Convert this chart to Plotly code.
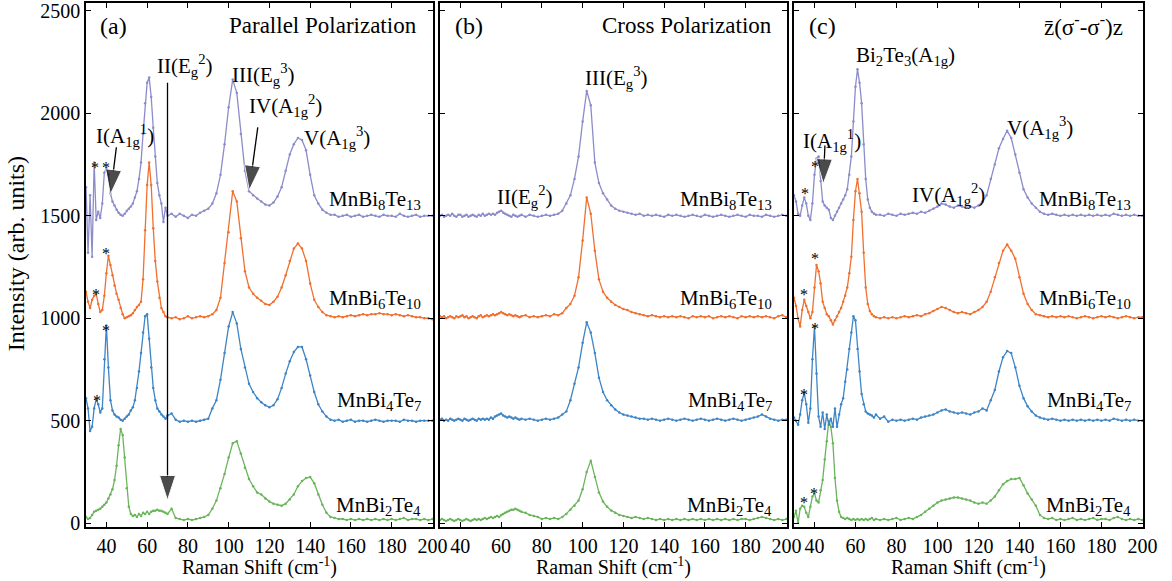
import plotly.graph_objects as go

# ---------------- data ----------------
X = [30, 31, 32, 33, 34, 35, 36, 37, 38, 39,
     40, 41, 42, 43, 44, 45, 46, 47, 48, 49,
     50, 51, 52, 53, 54, 55, 56, 57, 58, 59,
     60, 61, 62, 63, 64, 65, 66, 67, 68, 69,
     70,
     72, 74, 76, 78, 80, 82, 84, 86, 88, 90,
     92, 94, 96, 98, 100, 102, 104, 106, 108, 110,
     112, 114, 116, 118, 120, 122, 124, 126, 128, 130,
     132, 134, 136, 138, 140, 142, 144, 146, 148, 150,
     152, 154, 156, 158, 160, 162, 164, 166, 168, 170,
     172, 174, 176, 178, 180, 182, 184, 186, 188, 190,
     192, 194, 196, 198, 200]

# (a) Parallel polarization
PA_8 = [1640, 1320, 1600, 1300, 1760, 1480, 1520, 1490, 1560, 1710,
        1735, 1700, 1610, 1570, 1550, 1530, 1515, 1505, 1500, 1510,
        1525, 1535, 1545, 1560, 1590, 1620, 1680, 1760, 1900, 2050,
        2150, 2175, 2080, 1930, 1790, 1660, 1600, 1560, 1470, 1540,
        1500,
        1510, 1495, 1510, 1500, 1490, 1505, 1500, 1515, 1525, 1535,
        1560, 1610, 1700, 1850, 2030, 2165, 2100, 1900, 1720, 1620,
        1600, 1585, 1570, 1555, 1550, 1565, 1595, 1640, 1720, 1800,
        1850, 1880, 1870, 1820, 1700, 1600, 1560, 1530, 1515, 1505,
        1505, 1495, 1500, 1505, 1495, 1500, 1505, 1495, 1500, 1505,
        1500, 1495, 1505, 1500, 1500, 1495, 1510, 1500, 1495, 1500,
        1505, 1495, 1500, 1500, 1500]
PA_6 = [1130, 1080, 1050, 1090, 1110, 1120, 1070, 1030, 1040, 1110,
        1220, 1305, 1260, 1210, 1160, 1120, 1090, 1050, 1020, 1000,
        1005, 1010, 1015, 1025, 1040, 1055, 1065, 1080, 1190, 1430,
        1650, 1760, 1650, 1440, 1280, 1180, 1100, 1050, 1030, 1010,
        1005,
        1000, 1005, 995, 1000, 1010, 1000, 1005, 1010, 1005, 1010,
        1020, 1040, 1100, 1270, 1420, 1620, 1570, 1390, 1230, 1150,
        1120, 1100, 1085, 1070, 1065, 1080, 1105, 1150, 1210, 1280,
        1340, 1365, 1340, 1280, 1170, 1090, 1055, 1030, 1015, 1010,
        1005, 1010, 1005, 1010, 1015, 1010, 1015, 1020, 1015, 1020,
        1020, 1025, 1020, 1020, 1015, 1020, 1015, 1010, 1015, 1010,
        1005, 1005, 1000, 1000, 995]
PA_4 = [610, 560, 450, 470, 560, 605, 580, 540, 560, 800,
        965, 760, 600, 550, 530, 520, 515, 505, 500, 510,
        520, 530, 550, 565, 600, 660, 740, 830, 930, 1010,
        1020, 900, 760, 660, 600, 560, 545, 530, 520, 510,
        525,
        535, 505, 495, 500, 495, 500, 495, 500, 505, 510,
        560, 600, 700, 830, 960, 1030, 975, 850, 760, 680,
        640, 610, 590, 575, 565, 575, 605, 660, 730, 790,
        835, 860, 860, 800, 720, 640, 580, 545, 520, 505,
        500, 505, 495, 500, 505, 495, 500, 500, 495, 500,
        505, 500, 495, 500, 500, 500, 495, 505, 500, 500,
        495, 500, 500, 500, 500]
PA_2 = [30, 20, 25, 40, 55, 60, 65, 70, 80, 90,
        100, 120, 140, 165, 210, 280, 380, 460, 430, 320,
        170, 80, 45, 35, 40, 30, 45, 35, 50, 45,
        55, 45, 55, 60, 60, 65, 60, 60, 55, 50,
        45,
        70, 25, 20, 15, 20, 15, 20, 25, 30, 40,
        70, 110, 170, 240, 320, 390, 400, 340, 270, 215,
        180, 150, 140, 120, 105, 95, 90, 85, 95, 115,
        140, 180, 205, 220, 225, 195, 140, 90, 50, 30,
        25, 20, 20, 15, 20, 15, 20, 15, 20, 15,
        20, 15, 20, 15, 20, 15, 20, 25, 15, 20,
        20, 15, 20, 15, 20]

# (b) Cross polarization
PB_8 = [1500, 1505, 1495, 1500, 1505, 1500, 1510, 1500, 1495, 1505,
        1505, 1495, 1500, 1505, 1495, 1500, 1505, 1500, 1495, 1505,
        1500, 1510, 1500, 1505, 1510, 1505, 1510, 1505, 1515, 1520,
        1525, 1515, 1510, 1505, 1500, 1495, 1505, 1500, 1495, 1500,
        1505,
        1495, 1505, 1500, 1495, 1500, 1505, 1500, 1505, 1510, 1525,
        1560, 1600, 1680, 1790, 1960, 2110, 2040, 1760, 1660, 1610,
        1580, 1550, 1535, 1525, 1520, 1515, 1510, 1505, 1510, 1500,
        1505, 1500, 1505, 1500, 1495, 1505, 1500, 1505, 1500, 1495,
        1500, 1505, 1500, 1495, 1505, 1500, 1495, 1500, 1505, 1500,
        1495, 1500, 1505, 1500, 1495, 1505, 1500, 1500, 1495, 1505,
        1500, 1495, 1500, 1505, 1500]
PB_6 = [1010, 1005, 1010, 1000, 1005, 1010, 1005, 1000, 1010, 1005,
        1010, 1015, 1005, 1010, 1000, 1005, 1010, 1005, 1000, 1010,
        1015, 1005, 1010, 1015, 1010, 1015, 1020, 1015, 1020, 1025,
        1030, 1025, 1020, 1015, 1020, 1015, 1010, 1015, 1010, 1005,
        1010,
        1015, 1005, 1010, 1005, 1010, 1015, 1010, 1020, 1015, 1025,
        1050, 1070, 1110, 1200, 1380, 1590, 1510, 1330, 1190, 1130,
        1100, 1080, 1065, 1055, 1045, 1040, 1030, 1025, 1020, 1015,
        1010, 1015, 1010, 1005, 1010, 1005, 1010, 1005, 1010, 1005,
        1000, 1010, 1005, 1010, 1005, 1010, 1000, 1005, 1010, 1005,
        1010, 1005, 1000, 1010, 1005, 1010, 1005, 1010, 1005, 1010,
        1005, 1000, 1010, 1015, 1005]
PB_4 = [505, 510, 500, 505, 500, 510, 505, 500, 505, 510,
        505, 500, 510, 505, 500, 505, 510, 505, 500, 510,
        505, 510, 505, 510, 505, 515, 510, 520, 525, 530,
        535, 525, 520, 515, 520, 515, 510, 515, 510, 505,
        510,
        505, 510, 505, 500, 505, 510, 505, 510, 515, 530,
        545, 600, 680, 760, 880, 980, 930, 830, 710, 640,
        600, 575, 555, 540, 530, 525, 520, 515, 510, 510,
        505, 510, 505, 500, 505, 510, 505, 500, 505, 510,
        505, 500, 505, 510, 505, 500, 505, 510, 505, 500,
        505, 510, 505, 500, 505, 510, 515, 520, 530, 520,
        510, 505, 500, 505, 505]
PB_2 = [15, 20, 15, 10, 15, 20, 15, 10, 15, 20,
        15, 10, 15, 20, 15, 10, 15, 20, 15, 20,
        15, 20, 25, 20, 25, 30, 25, 30, 35, 30,
        40, 45, 50, 55, 60, 65, 65, 70, 65, 60,
        55,
        50, 40, 35, 30, 20, 25, 20, 25, 20, 30,
        45, 65, 85, 110, 165, 250, 305, 225, 150, 105,
        80, 62, 50, 40, 35, 30, 25, 30, 25, 20,
        25, 20, 15, 20, 15, 20, 15, 20, 15, 20,
        15, 20, 15, 20, 15, 20, 15, 20, 15, 20,
        15, 20, 15, 20, 20, 15, 20, 25, 30, 25,
        20, 15, 20, 15, 20]

# (c) circular z(s- s-)z
PC_8 = [1600, 1570, 1510, 1500, 1550, 1590, 1560, 1500, 1480, 1560,
        1700, 1780, 1790, 1670, 1570, 1550, 1540, 1530, 1490, 1480,
        1500, 1520, 1540, 1560, 1580, 1600, 1630, 1700, 1790, 1960,
        2130, 2215, 2150, 2050, 1850, 1680, 1580, 1540, 1520, 1510,
        1505,
        1505, 1500, 1510, 1505, 1500, 1510, 1505, 1510, 1515, 1510,
        1520, 1515, 1525, 1535, 1545, 1560, 1555, 1545, 1540, 1550,
        1545, 1540, 1545, 1540, 1550, 1570, 1600, 1680, 1750, 1830,
        1875, 1915, 1880, 1800, 1710, 1630, 1590, 1560, 1540, 1520,
        1510, 1505, 1510, 1505, 1500, 1505, 1500, 1505, 1500, 1505,
        1500, 1505, 1500, 1505, 1500, 1505, 1500, 1510, 1505, 1500,
        1505, 1500, 1505, 1500, 1500]
PC_6 = [1100, 1060, 1000, 960, 1040, 1090, 1060, 1030, 1000, 1030,
        1150, 1260, 1230, 1170, 1080, 1050, 1020, 1010, 990, 970,
        990, 1010, 1030, 1050, 1080, 1110, 1150, 1220, 1300, 1480,
        1620, 1680, 1610, 1520, 1320, 1150, 1070, 1035, 1020, 1010,
        1005,
        1000, 1005, 1000, 1005, 1000, 1005, 1010, 1005, 1010, 1015,
        1010, 1020, 1025, 1035, 1045, 1055, 1050, 1040, 1030, 1025,
        1030, 1025, 1020, 1030, 1040, 1055, 1080, 1130, 1200, 1270,
        1330, 1360, 1330, 1290, 1200, 1120, 1070, 1040, 1020, 1015,
        1010, 1005, 1010, 1005, 1010, 1005, 1010, 1005, 1000, 1005,
        1010, 1005, 1000, 1005, 1010, 1005, 1010, 1005, 1000, 1005,
        1010, 1005, 1000, 1005, 1005]
PC_4 = [515, 500, 480, 530, 600, 635, 580, 490, 560, 800,
        960, 730, 520, 470, 540, 460, 530, 480, 510, 470,
        560, 470, 530, 580, 610, 690, 750, 850, 930, 1010,
        990, 850, 740, 630, 580, 545, 535, 530, 525, 515,
        530,
        510, 520, 495, 505, 500, 505, 500, 505, 510, 505,
        515, 520, 525, 530, 540, 550, 555, 545, 540, 535,
        540, 535, 530, 540, 545, 560, 550, 600, 650, 740,
        810, 840, 830, 760, 670, 610, 570, 545, 525, 515,
        510, 505, 510, 505, 500, 505, 500, 505, 500, 505,
        500, 505, 500, 505, 500, 505, 500, 510, 505, 500,
        505, 500, 505, 500, 500]
PC_2 = [30, 60, 0, 70, 85, 80, 50, 30, 80, 130,
        145, 110, 100, 160, 210, 310, 400, 500, 470, 390,
        220, 110, 55, 30, 25, 20, 25, 20, 15, 20,
        15, 20, 15, 20, 15, 20, 15, 20, 25, 15,
        20,
        15, 20, 15, 20, 25, 15, 20, 25, 20, 30,
        40, 55, 70, 85, 100, 110, 115, 120, 125, 125,
        120, 115, 110, 100, 95, 100, 95, 110, 130, 160,
        190, 205, 215, 215, 220, 185, 145, 115, 85, 40,
        25, 20, 25, 15, 20, 15, 20, 25, 15, 20,
        15, 20, 25, 15, 20, 20, 15, 25, 30, 20,
        15, 20, 15, 20, 15]

NAMES = ["MnBi<sub>2</sub>Te<sub>4</sub>", "MnBi<sub>4</sub>Te<sub>7</sub>",
         "MnBi<sub>6</sub>Te<sub>10</sub>", "MnBi<sub>8</sub>Te<sub>13</sub>"]
COLORS = ["#6AB55B", "#3D85C6", "#F07030", "#8C8CCB"]
NAME_Y = [85, 597, 1092, 1575]

X_TICKS = [40, 60, 80, 100, 120, 140, 160, 180, 200]
Y_TICKS = [0, 500, 1000, 1500, 2000, 2500]

PANELS = [
    dict(xa="x", ya="y", series=[PA_2, PA_4, PA_6, PA_8], name_x=195.2,
         tag="(a)", tag_x=35.9, title="Parallel Polarization", title_x=193.3),
    dict(xa="x2", ya="y2", series=[PB_2, PB_4, PB_6, PB_8], name_x=193.7,
         tag="(b)", tag_x=36.3, title="Cross Polarization", title_x=193.9),
    dict(xa="x3", ya="y3", series=[PC_2, PC_4, PC_6, PC_8], name_x=195.6,
         tag="(c)", tag_x=36.2, title="z\u0304(\u03c3<sup>-</sup>-\u03c3<sup>-</sup>)z", title_x=191.5),
]

# peak labels: (panel index, x, y, text)
PEAK_LABELS = [
    (0, 49.0, 1893, "I(A<sub>1g</sub><sup>1</sup>)"),
    (0, 78.5, 2233, "II(E<sub>g</sub><sup>2</sup>)"),
    (0, 117.3, 2189, "III(E<sub>g</sub><sup>3</sup>)"),
    (0, 128.0, 2039, "IV(A<sub>1g</sub><sup>2</sup>)"),
    (0, 153.3, 1883, "V(A<sub>1g</sub><sup>3</sup>)"),
    (1, 71.5, 1592, "II(E<sub>g</sub><sup>2</sup>)"),
    (1, 116.8, 2175, "III(E<sub>g</sub><sup>3</sup>)"),
    (2, 84.6, 2281, "Bi<sub>2</sub>Te<sub>3</sub>(A<sub>1g</sub>)"),
    (2, 48.5, 1869, "I(A<sub>1g</sub><sup>1</sup>)"),
    (2, 105.6, 1602, "IV(A<sub>1g</sub><sup>2</sup>)"),
    (2, 150.0, 1932, "V(A<sub>1g</sub><sup>3</sup>)"),
]

# asterisks: (panel index, x, y)
STARS = [
    (0, 34.4, 1735), (0, 39.8, 1735), (0, 39.8, 1318), (0, 34.9, 1114),
    (0, 39.8, 939), (0, 35.5, 599),
    (2, 35.4, 1609), (2, 40.2, 1740), (2, 40.2, 1294), (2, 34.9, 1114),
    (2, 40.2, 948), (2, 34.9, 628), (2, 39.8, 143), (2, 34.9, 99),
]

# arrows: (panel index, [tail x, tip x], [tail y, tip y])
ARROWS = [
    (0, [70.0, 70.0], [2150, 112]),
    (0, [44.9, 42.0], [1835, 1605]),
    (0, [114.3, 110.1], [1932, 1625]),
    (2, [45.1, 44.3], [1843, 1657]),
]

FONT = "Liberation Serif, Times New Roman, Times, serif"
XDOM = [[0.0, 0.3283], [0.3349, 0.6632], [0.6698, 1.0]]

fig = go.Figure()

for p in PANELS:
    for s, c in zip(p["series"], COLORS):
        fig.add_trace(go.Scatter(
            x=X, y=s, xaxis=p["xa"], yaxis=p["ya"], mode="lines+markers",
            line=dict(color=c, width=1.3), marker=dict(size=2.5, color=c),
            showlegend=False, hoverinfo="skip"))

for pi, xs, ys in ARROWS:
    p = PANELS[pi]
    fig.add_trace(go.Scatter(
        x=xs, y=ys, xaxis=p["xa"], yaxis=p["ya"], mode="lines+markers",
        line=dict(color="black", width=1.3),
        marker=dict(symbol="arrow", size=[0, 26], angleref="previous", color="black"),
        showlegend=False, hoverinfo="skip"))

ann = []
for p in PANELS:
    for nm, ny in zip(NAMES, NAME_Y):
        ann.append(dict(x=p["name_x"], y=ny, xref=p["xa"], yref=p["ya"], text=nm,
                        showarrow=False, xanchor="right", yanchor="middle",
                        font=dict(family=FONT, size=21, color="black")))
    ann.append(dict(x=p["tag_x"], y=2429, xref=p["xa"], yref=p["ya"], text=p["tag"],
                    showarrow=False, xanchor="left", yanchor="middle",
                    font=dict(family=FONT, size=24, color="black")))
    ann.append(dict(x=p["title_x"], y=2429, xref=p["xa"], yref=p["ya"], text=p["title"],
                    showarrow=False, xanchor="right", yanchor="middle",
                    font=dict(family=FONT, size=23, color="black")))

for pi, lx, ly, txt in PEAK_LABELS:
    p = PANELS[pi]
    ann.append(dict(x=lx, y=ly, xref=p["xa"], yref=p["ya"], text=txt, showarrow=False,
                    xanchor="center", yanchor="middle",
                    font=dict(family=FONT, size=21, color="black")))

for pi, sx, sy in STARS:
    p = PANELS[pi]
    ann.append(dict(x=sx, y=sy, xref=p["xa"], yref=p["ya"], text="*", showarrow=False,
                    xanchor="center", yanchor="middle",
                    font=dict(family=FONT, size=16, color="black")))

for d in XDOM:
    ann.append(dict(x=(d[0] + d[1]) / 2, y=-0.076, xref="paper", yref="paper",
                    text="Raman Shift (cm<sup>-1</sup>)", showarrow=False,
                    xanchor="center", yanchor="middle", borderpad=0,
                    font=dict(family=FONT, size=20, color="black")))
ann.append(dict(x=-0.0655, y=0.522, xref="paper", yref="paper", text="Intensity (arb. units)",
                textangle=-90, showarrow=False, xanchor="center", yanchor="middle",
                font=dict(family=FONT, size=24, color="black")))

axis_common = dict(showline=True, linecolor="black", linewidth=1.6, mirror="ticks",
                   ticks="inside", ticklen=5, tickwidth=1.2, tickcolor="black",
                   showgrid=False, zeroline=False, ticklabeloverflow="allow",
                   tickfont=dict(family=FONT, size=20, color="black"))

layout = dict(
    width=1172, height=581,
    margin=dict(l=86, r=29, t=0, b=54),
    paper_bgcolor="white", plot_bgcolor="white",
    annotations=ann, showlegend=False,
)
for i, d in enumerate(XDOM):
    sfx = "" if i == 0 else str(i + 1)
    layout["xaxis" + sfx] = dict(axis_common, domain=d, range=[30, 200.3],
                                 tickvals=X_TICKS, anchor="y" + sfx)
    layout["yaxis" + sfx] = dict(axis_common, domain=[0, 1], range=[-19, 2539],
                                 tickvals=Y_TICKS, anchor="x" + sfx,
                                 showticklabels=(i == 0))
fig.update_layout(**layout)

fig.write_html("out.html")
